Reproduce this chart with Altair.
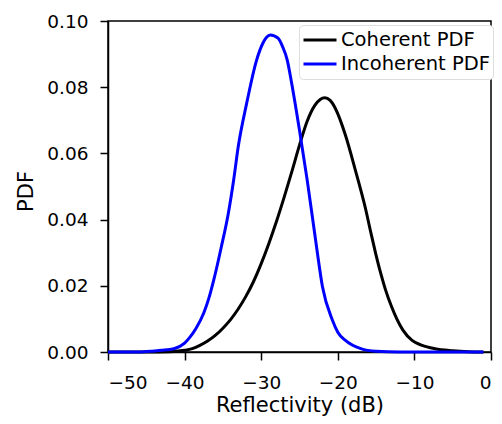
import altair as alt
import pandas as pd

# Coherent PDF (black)
coh_x = [-50, -45, -42, -40, -39, -38, -37, -36, -35, -34, -33, -32, -31, -30, -29, -28, -27,
         -26, -25, -24, -23, -22.3, -21.7, -21, -20.3, -19, -17.7, -16.4, -15.7, -15.1, -14.4,
         -13.8, -13, -12.3, -11.5, -10.3, -9, -7.3, -5, -3, -1]
coh_y = [0.0, 0.0, 0.0001, 0.0005, 0.001, 0.002, 0.0033, 0.005, 0.0072, 0.0098, 0.013, 0.0168,
         0.0213, 0.0267, 0.0328, 0.0395, 0.0468, 0.0545, 0.0625, 0.0697, 0.0745, 0.0763, 0.0768,
         0.0760, 0.0735, 0.0655, 0.0549, 0.0435, 0.0362, 0.0302, 0.0238, 0.0190, 0.0138, 0.0100,
         0.0066, 0.0035, 0.002, 0.001, 0.0004, 0.0001, 0.0]

# Incoherent PDF (blue)
inc_x = [-50, -46, -44, -43, -41.4, -40, -39.3, -38.5, -37.5, -36.8, -36.2, -35.2, -34.3, -33.6,
         -33, -31.9, -30.6, -29.8, -29.3, -28.8, -27.8, -27.2, -26.6, -26.1, -25, -24, -23.3,
         -22.7, -22, -20.7, -20, -19, -17, -15, -12, -1]
inc_y = [0.0, 0.0, 0.0003, 0.0005, 0.001, 0.0027, 0.0045, 0.0072, 0.0118, 0.0165, 0.0217, 0.0318,
         0.0418, 0.0519, 0.0620, 0.0751, 0.0882, 0.0932, 0.0951, 0.0958, 0.0948, 0.0922, 0.0882,
         0.0822, 0.0670, 0.0520, 0.0405, 0.0305, 0.0197, 0.0096, 0.006, 0.0035, 0.0010, 0.0002,
         0.0, 0.0]

series = ["Coherent PDF", "Incoherent PDF"]
colors = ["#000000", "#0000ff"]
x_ticks = [-50, -40, -30, -20, -10, 0]
y_ticks = [0.0, 0.02, 0.04, 0.06, 0.08, 0.10]

df = pd.concat([
    pd.DataFrame({"x": coh_x, "y": coh_y, "s": series[0]}),
    pd.DataFrame({"x": inc_x, "y": inc_y, "s": series[1]}),
])

chart = alt.Chart(df).mark_line(strokeWidth=3, interpolate="monotone").encode(
    x=alt.X("x:Q", scale=alt.Scale(domain=[-50, 0], nice=False),
            axis=alt.Axis(title="Reflectivity (dB)", values=x_ticks, format="d",
                          grid=False, tickSize=8, labelPadding=13,
                          titleBaseline="alphabetic", titleY=59)),
    y=alt.Y("y:Q", scale=alt.Scale(domain=[0, 0.1], nice=False),
            axis=alt.Axis(title="PDF", values=y_ticks, format=".2f",
                          grid=False, tickSize=8, labelPadding=12,
                          titleBaseline="middle", titleX=-82, titleY=170)),
    color=alt.Color("s:N", scale=alt.Scale(domain=series, range=colors),
                    legend=alt.Legend(title=None, orient="none", legendX=191, legendY=4,
                                      symbolType="stroke", symbolSize=1089,
                                      symbolStrokeWidth=3, labelFontSize=19.5, labelOffset=3,
                                      labelLimit=400, padding=3, rowPadding=0, clipHeight=24,
                                      strokeColor="#dddddd", fillColor="white",
                                      cornerRadius=4)),
    detail="s:N",
).properties(
    width=383, height=331,
    autosize=alt.AutoSizeParams(type="none"),
    padding={"left": 100, "top": 13, "right": 3, "bottom": 64},
).configure(font="DejaVu Sans").configure_axis(
    domainColor="black", domainWidth=1.5, tickColor="black", tickWidth=1.5,
    labelColor="black", titleColor="black", labelFontSize=18.5, titleFontSize=21,
    titleFontWeight="normal", labelFont="DejaVu Sans", titleFont="DejaVu Sans",
).configure_view(stroke="black", strokeWidth=1.5).configure_legend(
    labelColor="black", labelFont="DejaVu Sans"
)

chart.save("out.html", embed_options={"renderer": "svg", "actions": False})
